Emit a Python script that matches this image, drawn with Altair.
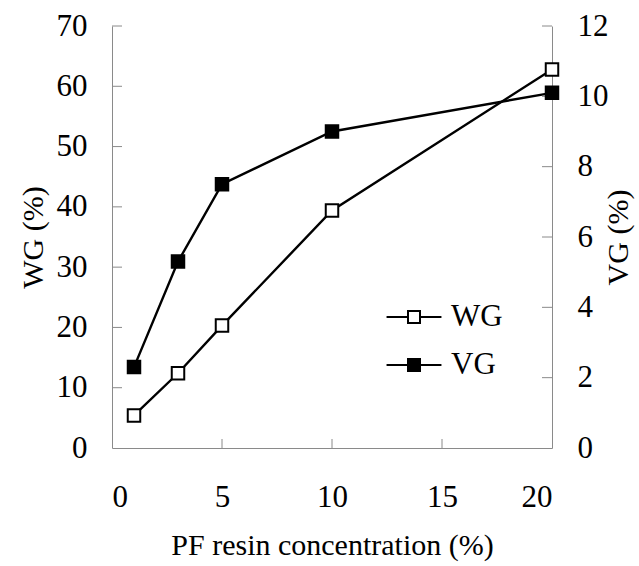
import altair as alt
import pandas as pd

# ---- data ----
conc = [1, 3, 5, 10, 20]
wg = [5.4, 12.4, 20.3, 39.4, 62.8]
vg = [2.3, 5.3, 7.5, 9.0, 10.1]
series_names = ["WG", "VG"]
x_tick_vals = [5, 10, 15]
x_label_vals = [0, 5, 10, 15, 20]
wg_tick_vals = [10, 20, 30, 40, 50, 60, 70]
wg_label_vals = [0, 10, 20, 30, 40, 50, 60, 70]
vg_tick_vals = [2, 4, 6, 8, 10, 12]
vg_label_vals = [0, 2, 4, 6, 8, 10, 12]

W, H = 440, 422
FONT = "Liberation Serif"
AX = "#8a8a8a"
LEG_PATH = "M-1.83,0H-0.4M0.4,0H1.83M-0.4,-0.4H0.4V0.4H-0.4Z"

df_wg = pd.DataFrame({"conc": conc, "value": wg, "series": "WG"})
df_vg = pd.DataFrame({"conc": conc, "value": vg, "series": "VG"})

xscale = alt.Scale(domain=[0, 20], nice=False, zero=False)
yl_scale = alt.Scale(domain=[0, 70], nice=False)
yr_scale = alt.Scale(domain=[0, 12], nice=False)

fill_scale = alt.Scale(domain=series_names, range=["white", "black"])
legend = alt.Legend(
    title=None, orient="none", legendX=286, legendY=275,
    symbolType=LEG_PATH, symbolSize=900, symbolStrokeWidth=2,
    symbolStrokeColor="black", labelFont=FONT, labelFontSize=31,
    labelColor="black", labelOffset=21, rowPadding=17, padding=0,
)

x_axis = alt.Axis(values=x_label_vals, title="PF resin concentration (%)",
                  tickSize=0, labelPadding=34, titlePadding=18, grid=False)
yl_axis = alt.Axis(values=wg_label_vals, title="WG (%)", orient="left",
                   tickSize=0, labelPadding=25, grid=False,
                   titleAngle=270, titleBaseline="middle", titleAlign="center",
                   titleX=-79, titleY=H / 2)
yr_axis = alt.Axis(values=vg_label_vals, title="VG (%)", orient="right",
                   tickSize=0, labelPadding=25, grid=False,
                   titleAngle=270, titleBaseline="middle", titleAlign="center",
                   titleX=66, titleY=H / 2)

X = lambda f: alt.X(f, scale=xscale, axis=x_axis)
YL = lambda f: alt.Y(f, scale=yl_scale, axis=yl_axis)
YR = lambda f: alt.Y(f, scale=yr_scale, axis=yr_axis)

wg_line = alt.Chart(df_wg).mark_line(color="black", strokeWidth=2.4).encode(
    x=X("conc:Q"), y=YL("value:Q"),
)
wg_pts = alt.Chart(df_wg).mark_point(shape="square", filled=True, size=156,
                                     stroke="black", strokeWidth=2, opacity=1).encode(
    x=X("conc:Q"), y=YL("value:Q"),
    fill=alt.Fill("series:N", scale=fill_scale, legend=legend),
)
x_ticks = alt.Chart(pd.DataFrame({"conc": x_tick_vals})).mark_rule(color=AX, strokeWidth=1).encode(
    x=X("conc:Q"), y=alt.value(H), y2=alt.value(H - 9),
)
wg_ticks = alt.Chart(pd.DataFrame({"value": wg_tick_vals})).mark_rule(color=AX, strokeWidth=1).encode(
    y=YL("value:Q"), x=alt.value(0), x2=alt.value(10),
)

vg_line = alt.Chart(df_vg).mark_line(color="black", strokeWidth=2.4).encode(
    x=X("conc:Q"), y=YR("value:Q"),
)
vg_pts = alt.Chart(df_vg).mark_point(shape="square", filled=True, size=156,
                                     stroke="black", strokeWidth=2, opacity=1).encode(
    x=X("conc:Q"), y=YR("value:Q"),
    fill=alt.Fill("series:N", scale=fill_scale, legend=legend),
)
vg_ticks = alt.Chart(pd.DataFrame({"value": vg_tick_vals})).mark_rule(color=AX, strokeWidth=1).encode(
    y=YR("value:Q"), x=alt.value(W), x2=alt.value(W - 10),
)

left = alt.layer(wg_line, x_ticks, wg_ticks, wg_pts)
right = alt.layer(vg_line, vg_ticks, vg_pts)

chart = alt.layer(left, right).resolve_scale(y="independent").properties(
    width=W, height=H,
    autosize=alt.AutoSizeParams(type="none"),
    padding={"left": 112, "top": 26, "right": 87, "bottom": 118},
    background="white",
).configure_view(stroke=None).configure_axis(
    labelFont=FONT, titleFont=FONT, labelFontSize=31, titleFontSize=30,
    labelColor="black", titleColor="black", titleFontWeight="normal",
    domainColor=AX, domainWidth=1,
)

chart.save("out.html", embed_options={"renderer": "svg", "actions": False})
